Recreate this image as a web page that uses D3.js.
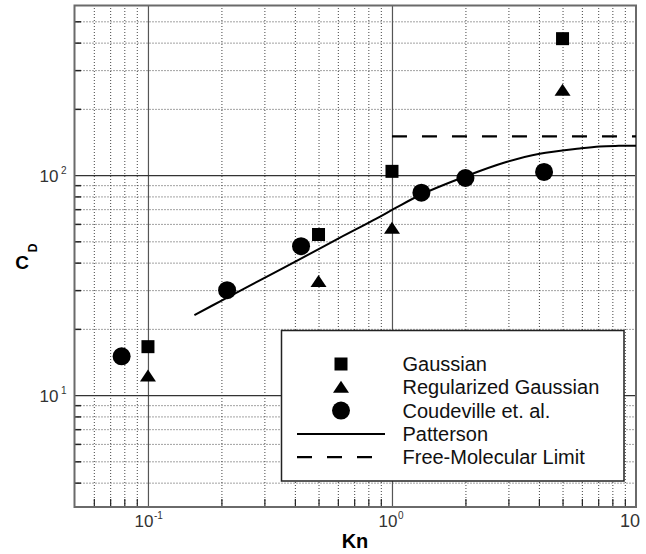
<!DOCTYPE html>
<html><head><meta charset="utf-8">
<script src="https://cdn.jsdelivr.net/npm/d3@7"></script>
<style>body{margin:0;background:#fff}svg{display:block}</style>
</head><body><svg id="c" width="646" height="554"></svg>
<script>
// ---- data ----
const gaussKn = [0.1, 0.5, 1, 5];
const gaussCD = [16.6, 53.7, 104, 417];
const regKn = [0.1, 0.5, 1, 5];
const regCD = [12.2, 32.8, 57.3, 243];
const coudKn = [0.078, 0.211, 0.424, 1.32, 2.0, 4.2];
const coudCD = [15.0, 30.0, 47.5, 83.2, 97.0, 103.4];
const pattKn = [0.155, 0.203, 0.306, 0.418, 0.61, 0.863, 1.04, 1.30, 2.02, 2.94, 4.03, 5.88, 7.1, 8.5, 10];
const pattCD = [23.1, 27.1, 34.5, 41.4, 51.8, 63.4, 71.1, 81.0, 99.0, 114.6, 125.1, 132.2, 135.0, 135.8, 136];
const fmKn = [1, 10];
const fmCD = [150, 150];
const xMajor = [0.1, 1, 10];
const xMajorBase = ["10", "10", "10"];
const xMajorExp = ["-1", "0", ""];
const yMajor = [10, 100];
const yMajorBase = ["10", "10"];
const yMajorExp = ["1", "2"];
const legendLabels = ["Gaussian", "Regularized Gaussian", "Coudeville et. al.", "Patterson", "Free-Molecular Limit"];
const legendKinds = ["square", "triangle", "circle", "solid", "dashed"];

// ---- layout ----
const L = 74.5, R = 636, T = 5.5, B = 507;
const svg = d3.select("#c");
const x = d3.scaleLog().domain([0.05, 10]).range([L, R]);
const y = d3.scaleLog().domain([3.1, 590]).range([B, T]);

svg.append("rect").attr("width", 646).attr("height", 554).attr("fill", "#fff");

const isMajor = v => Math.abs(Math.log10(v) - Math.round(Math.log10(v))) < 1e-6;
const xMinor = x.ticks().filter(v => !isMajor(v) && v > 0.05 + 1e-9 && v < 10 - 1e-9);
const yMinor = y.ticks().filter(v => !isMajor(v) && v > 3.1 && v < 590);

// minor dotted grid
const g = svg.append("g");
g.append("g").attr("transform", `translate(0,${B})`)
  .call(d3.axisBottom(x).tickValues(xMinor).tickSize(-(B - T)).tickFormat(""))
  .call(s => s.select(".domain").remove())
  .selectAll("line").attr("stroke", "#444").attr("stroke-dasharray", "1,2");
g.append("g").attr("transform", `translate(${L},0)`)
  .call(d3.axisLeft(y).tickValues(yMinor).tickSize(-(R - L)).tickFormat(""))
  .call(s => s.select(".domain").remove())
  .selectAll("line").attr("stroke", "#444").attr("stroke-dasharray", "1,2");

// major grid
g.append("g").attr("transform", `translate(0,${B})`)
  .call(d3.axisBottom(x).tickValues(xMajor.filter(v => v < 10)).tickSize(-(B - T)).tickFormat(""))
  .call(s => s.select(".domain").remove())
  .selectAll("line").attr("stroke", "#555").attr("stroke-width", 1.2);
g.append("g").attr("transform", `translate(${L},0)`)
  .call(d3.axisLeft(y).tickValues(yMajor).tickSize(-(R - L)).tickFormat(""))
  .call(s => s.select(".domain").remove())
  .selectAll("line").attr("stroke", "#333").attr("stroke-width", 1.2);

// inward tick marks
g.append("g").attr("transform", `translate(0,${B})`)
  .call(d3.axisBottom(x).tickValues(xMinor).tickSize(-8).tickFormat(""))
  .call(s => s.select(".domain").remove())
  .selectAll("line").attr("stroke", "#222").attr("stroke-width", 1.2);
g.append("g").attr("transform", `translate(${L},0)`)
  .call(d3.axisLeft(y).tickValues(yMinor).tickSize(-6.5).tickFormat(""))
  .call(s => s.select(".domain").remove())
  .selectAll("line").attr("stroke", "#222").attr("stroke-width", 1.5);

// frame
svg.append("rect").attr("x", L).attr("y", T).attr("width", R - L).attr("height", B - T)
  .attr("fill", "none").attr("stroke", "#6a6a6a").attr("stroke-width", 2);

// tick labels
const tf = "'Liberation Sans', Arial, sans-serif";
const xl = svg.append("g").attr("font-family", tf).attr("fill", "#333");
xMajor.forEach((v, i) => {
  const px = x(v);
  if (xMajorExp[i] === "") {
    xl.append("text").attr("x", px - 6).attr("y", 527).attr("font-size", 18)
      .attr("text-anchor", "middle").text(xMajorBase[i]);
  } else {
    xl.append("text").attr("x", px + 5.5).attr("y", 527).attr("font-size", 17)
      .attr("text-anchor", "end").text(xMajorBase[i]);
    xl.append("text").attr("x", px + 6).attr("y", 519).attr("font-size", 10)
      .text(xMajorExp[i]);
  }
});
yMajor.forEach((v, i) => {
  const py = y(v);
  xl.append("text").attr("x", 58.5).attr("y", py + 6.5).attr("font-size", 17)
    .attr("text-anchor", "end").text(yMajorBase[i]);
  xl.append("text").attr("x", 61).attr("y", py - 1.5).attr("font-size", 10)
    .text(yMajorExp[i]);
});

// axis titles
svg.append("text").attr("x", 355).attr("y", 548).attr("text-anchor", "middle")
  .attr("font-family", tf).attr("font-weight", "bold").attr("font-size", 20).text("Kn");
svg.append("text").attr("x", 22).attr("y", 268.5).attr("text-anchor", "middle")
  .attr("font-family", tf).attr("font-weight", "bold").attr("font-size", 19).text("C");
svg.append("text").attr("transform", "translate(36.5,248) rotate(-90)").attr("text-anchor", "middle")
  .attr("font-family", tf).attr("font-weight", "bold").attr("font-size", 12).text("D");

// lines
const line = d3.line().x(d => x(d[0])).y(d => y(d[1])).curve(d3.curveCatmullRom.alpha(0.5));
svg.append("path").datum(d3.zip(pattKn, pattCD)).attr("d", line)
  .attr("fill", "none").attr("stroke", "#000").attr("stroke-width", 2);
svg.append("path").datum(d3.zip(fmKn, fmCD)).attr("d", d3.line().x(d => x(d[0])).y(d => y(d[1])))
  .attr("fill", "none").attr("stroke", "#000").attr("stroke-width", 2.2).attr("stroke-dasharray", "15,15");

// markers
function drawMarker(sel, kind, cx, cy) {
  if (kind === "square") {
    sel.append("rect").attr("x", cx - 6.5).attr("y", cy - 6.5).attr("width", 13).attr("height", 13).attr("fill", "#000");
  } else if (kind === "triangle") {
    sel.append("path").attr("d", `M${cx},${cy - 6.5}L${cx + 8},${cy + 5.5}L${cx - 8},${cy + 5.5}Z`).attr("fill", "#000");
  } else if (kind === "circle") {
    sel.append("circle").attr("cx", cx).attr("cy", cy).attr("r", 9).attr("fill", "#000");
  }
}
const mk = svg.append("g");
gaussKn.forEach((k, i) => drawMarker(mk, "square", x(k), y(gaussCD[i])));
regKn.forEach((k, i) => drawMarker(mk, "triangle", x(k), y(regCD[i])));
coudKn.forEach((k, i) => drawMarker(mk, "circle", x(k), y(coudCD[i])));

// legend
const lg = svg.append("g");
lg.append("rect").attr("x", 281.5).attr("y", 330.5).attr("width", 342.5).attr("height", 150.5)
  .attr("fill", "#fff").attr("stroke", "#222").attr("stroke-width", 1.5);
legendLabels.forEach((lab, i) => {
  const cy = 364 + i * 23.3;
  const k = legendKinds[i];
  if (k === "solid") {
    lg.append("line").attr("x1", 297).attr("x2", 385).attr("y1", cy).attr("y2", cy)
      .attr("stroke", "#000").attr("stroke-width", 2);
  } else if (k === "dashed") {
    lg.append("line").attr("x1", 297).attr("x2", 372).attr("y1", cy).attr("y2", cy)
      .attr("stroke", "#000").attr("stroke-width", 2.2).attr("stroke-dasharray", "15,15");
  } else {
    drawMarker(lg, k, 341, cy);
  }
  lg.append("text").attr("x", 402.5).attr("y", cy + 7).attr("font-family", tf)
    .attr("font-size", 20).attr("fill", "#111").text(lab);
});
</script></body></html>
